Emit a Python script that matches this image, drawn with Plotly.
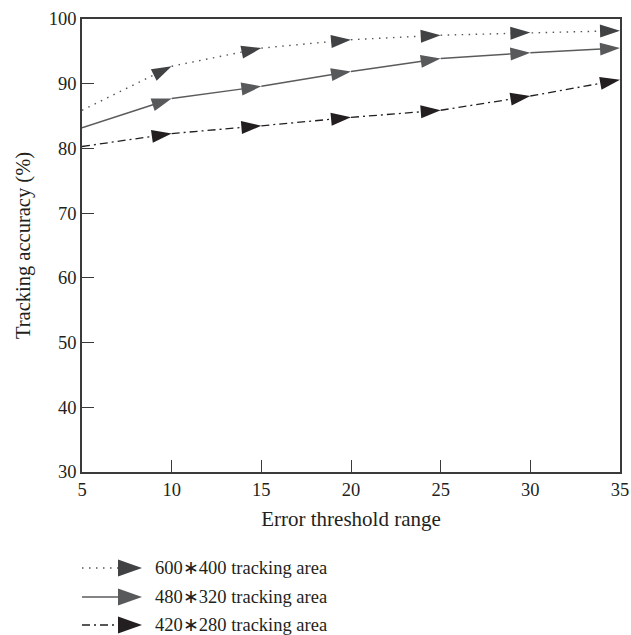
import plotly.graph_objects as go

x_vals = [5, 10, 15, 20, 25, 30, 35]
series_names = ["600∗400 tracking area", "480∗320 tracking area", "420∗280 tracking area"]
acc_600 = [85.9, 92.7, 95.5, 96.8, 97.5, 97.9, 98.2]
acc_480 = [83.2, 87.7, 89.6, 91.9, 93.9, 94.8, 95.5]
acc_420 = [80.3, 82.3, 83.5, 84.8, 85.9, 88.1, 90.6]
x_ticks = [5, 10, 15, 20, 25, 30, 35]
y_ticks = [30, 40, 50, 60, 70, 80, 90, 100]

series = [acc_600, acc_480, acc_420]
line_colors = ["#555555", "#5a5b5c", "#231f20"]
marker_colors = ["#414243", "#58595b", "#231f20"]
dashes = ["1.5px,5.5px", "solid", "8px,4px,2px,4px"]
widths = [1.4, 1.5, 1.3]

FONT = "Liberation Serif"
TXT = "#231f20"
PW, PH = 631, 635
L, R, T, B = 82, 620, 19, 472   # plot area in page pixels
W, H = R - L, B - T

fig = go.Figure()
msize = 21
for vals, lc, mc, d, w, name in zip(series, line_colors, marker_colors, dashes, widths, series_names):
    sizes = [0] + [msize] * (len(vals) - 1)
    fig.add_trace(go.Scatter(
        x=x_vals, y=vals, mode="lines+markers", name=name,
        line=dict(color=lc, width=w, dash=d),
        marker=dict(symbol="arrow", angleref="previous", size=sizes, color=mc,
                    opacity=1, line=dict(width=0)),
        cliponaxis=False, showlegend=False,
    ))

def px(xp):
    return (xp - L) / W
def py(yp):
    return (B - yp) / H

rows = [568, 597, 625]
for yrow, lc, mc, d, w, name in zip(rows, line_colors, marker_colors, dashes, widths, series_names):
    fig.add_shape(type="line", xref="paper", yref="paper",
                  x0=px(82), x1=px(119), y0=py(yrow), y1=py(yrow),
                  line=dict(color=lc, width=w, dash=d))
    path = "M {} {} L {} {} L {} {} Z".format(px(118), py(yrow - 8.5), px(142), py(yrow), px(118), py(yrow + 8.5))
    fig.add_shape(type="path", xref="paper", yref="paper", path=path,
                  fillcolor=mc, line=dict(width=0))
    fig.add_annotation(xref="paper", yref="paper", x=px(153), y=py(yrow),
                       text=name, showarrow=False, xanchor="left", yanchor="middle",
                       font=dict(family=FONT, size=18.5, color=TXT))

axis_common = dict(
    showline=True, linecolor="#3a3a3a", linewidth=1.5, mirror=True,
    ticks="inside", ticklen=12, tickwidth=1.3, tickcolor="#3a3a3a",
    showgrid=False, zeroline=False, automargin=False,
    tickfont=dict(family=FONT, size=18.5, color=TXT),
)
fig.update_xaxes(range=[5, 35], tickvals=x_ticks,
                 title=dict(text="Error threshold range", font=dict(family=FONT, size=21, color=TXT), standoff=12),
                 **axis_common)
fig.update_yaxes(range=[30, 100], tickvals=y_ticks,
                 title=dict(text="Tracking accuracy (%)", font=dict(family=FONT, size=20.5, color=TXT), standoff=13),
                 **axis_common)

fig.update_layout(
    width=PW, height=PH,
    margin=dict(l=L, r=PW - R, t=T, b=PH - B, autoexpand=False),
    paper_bgcolor="white", plot_bgcolor="white",
    showlegend=False,
)
fig.write_html("out.html", config={"displayModeBar": False},
               post_script="document.body.style.margin='0';document.body.style.overflow='hidden';")
